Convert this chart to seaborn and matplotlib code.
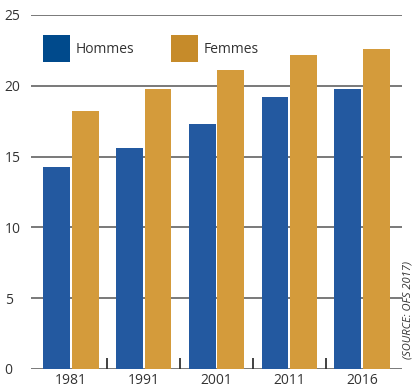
import matplotlib
matplotlib.use("Agg")
import matplotlib.pyplot as plt
import seaborn as sns
import pandas as pd
from matplotlib.patches import Patch

years = ["1981", "1991", "2001", "2011", "2016"]
hommes = [14.3, 15.6, 17.3, 19.2, 19.8]
femmes = [18.2, 19.8, 21.1, 22.2, 22.6]
series = ["Hommes", "Femmes"]
yticks = [0, 5, 10, 15, 20, 25]

bar_colors = {"Hommes": "#2359A0", "Femmes": "#D49B3B"}
legend_colors = {"Hommes": "#004A8C", "Femmes": "#C68B2A"}

df = pd.DataFrame({
    "year": years * 2,
    "value": hommes + femmes,
    "sexe": ["Hommes"] * len(years) + ["Femmes"] * len(years),
})

sns.set_style("white")
plt.rcParams["font.family"] = ["Open Sans", "DejaVu Sans"]

fig = plt.figure(figsize=(4.14, 3.87), dpi=100)
ax = fig.add_axes([31 / 414, 1 - 369 / 387, 371 / 414, 354 / 387])

for y in yticks:
    ax.axhline(y, color="#555555", lw=1.1, zorder=0)

sns.barplot(data=df, x="year", y="value", hue="sexe", hue_order=series,
            palette=bar_colors, width=0.78, gap=0.06, ax=ax, legend=False,
            saturation=1, linewidth=0, zorder=2)

ax.set_xlim(-0.55, len(years) - 0.45)
ax.set_ylim(0, 25)
ax.set_yticks(yticks)
ax.set_yticklabels([str(v) for v in yticks])
ax.set_xlabel("")
ax.set_ylabel("")
for s in ax.spines.values():
    s.set_visible(False)

ax.tick_params(axis="y", length=0, labelsize=10, labelcolor="#333333")
ax.set_xticks(range(len(years)))
ax.set_xticks([i + 0.5 for i in range(len(years) - 1)], minor=True)
ax.tick_params(axis="x", which="major", bottom=True, length=0, pad=3,
               labelsize=10, labelcolor="#333333")
ax.tick_params(axis="x", which="minor", bottom=True, direction="in", length=8,
               width=1.3, color="#333333")
for lbl in ax.get_yticklabels():
    lbl.set_horizontalalignment("left")
ax.yaxis.set_tick_params(pad=19)

handles = [Patch(facecolor=legend_colors[s], edgecolor="none", label=s) for s in series]
ax.legend(handles=handles, loc="upper left", bbox_to_anchor=(0.032, 0.944), ncol=2,
          frameon=False, fontsize=10, handlelength=1.94, handleheight=2.61,
          handletextpad=0.45, columnspacing=2.6, borderpad=0, borderaxespad=0,
          labelcolor="#333333")

fig.text(408 / 414, 1 - 310 / 387, "(SOURCE: OFS 2017)", rotation=90, fontsize=8,
         style="italic", color="#333333", ha="center", va="center")

fig.savefig("out.png", dpi=100)
